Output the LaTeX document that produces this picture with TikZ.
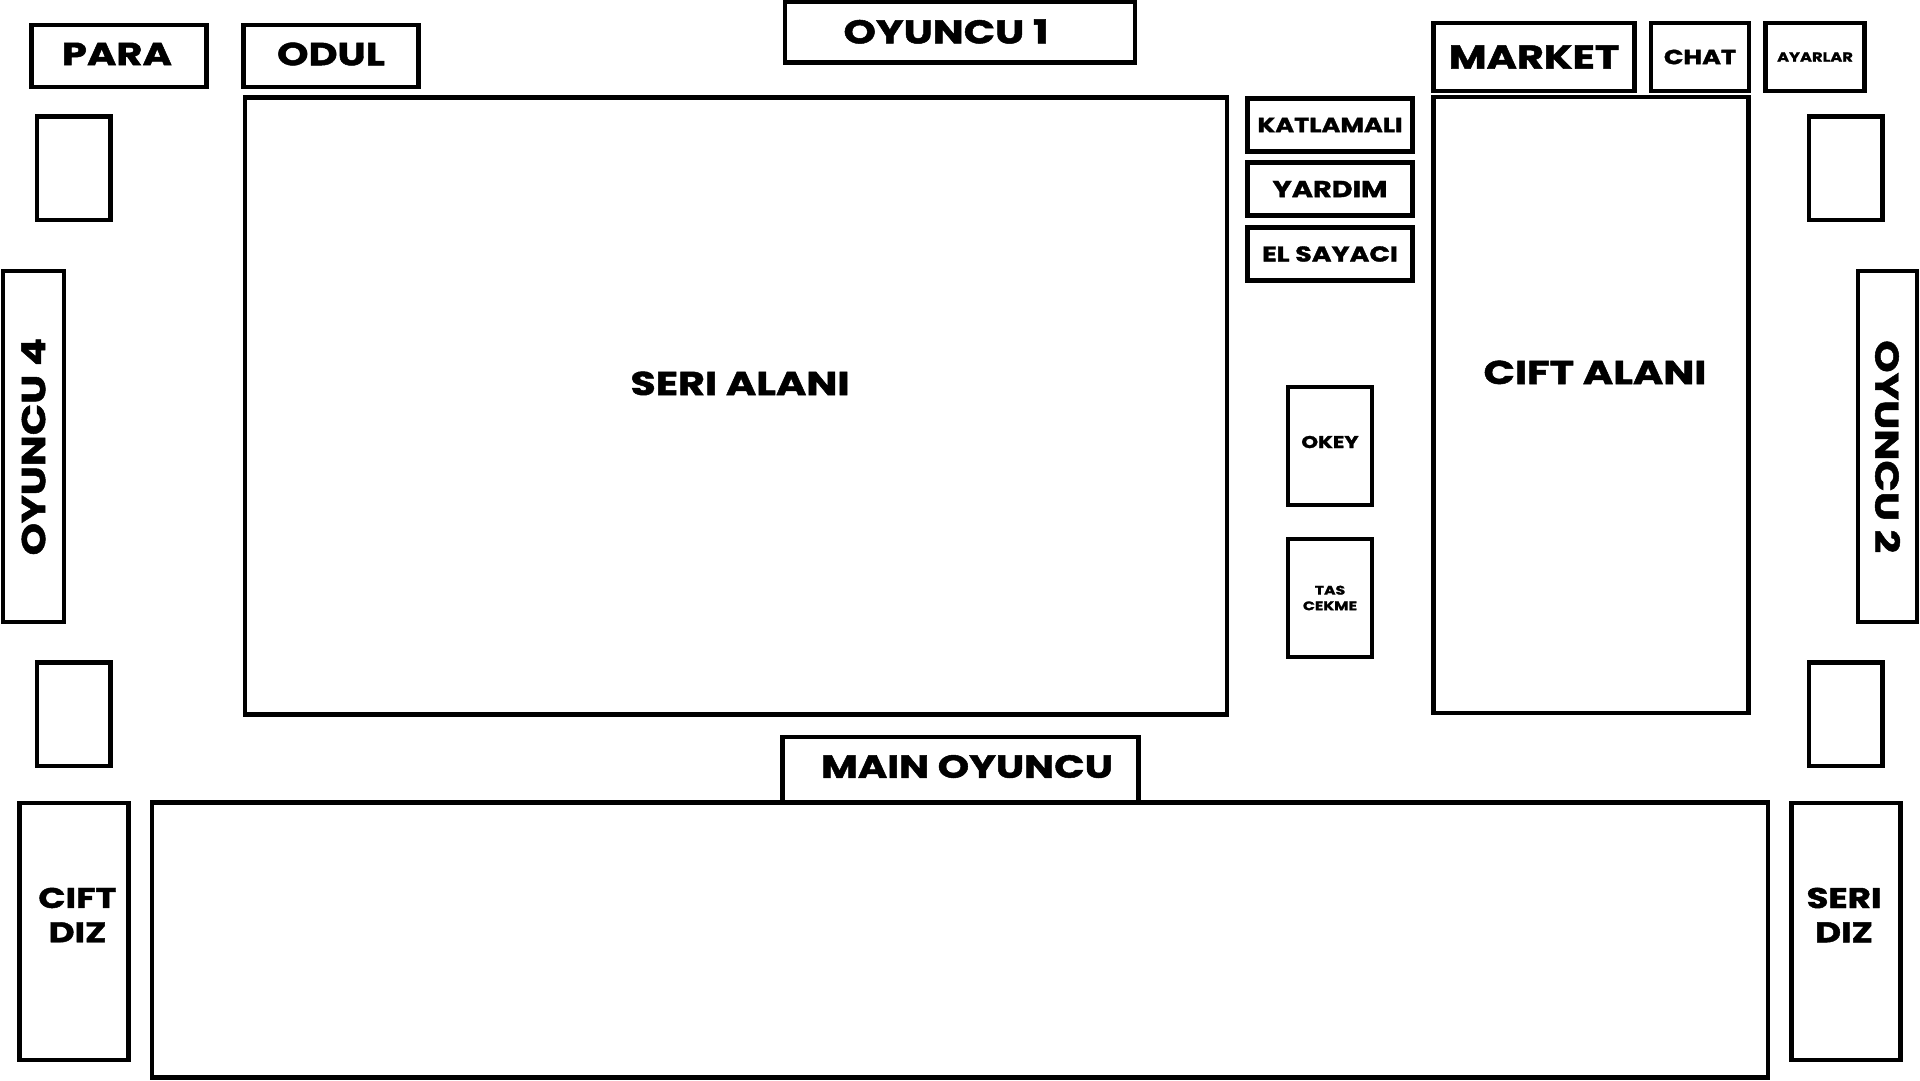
\documentclass[tikz,border=0pt]{standalone}
\usepackage{fontspec}
\setmainfont{Poppins}[BoldFeatures={FakeStretch=1.25,FakeBold=1.5}]

\begin{document}
\begin{tikzpicture}[x=1pt,y=-1pt,
  panel/.style={draw,line width=4.5pt,inner sep=0pt,font=\bfseries},
  sz/.style 2 args={minimum width=#1pt,minimum height=#2pt},
  fs/.style={font=\fontsize{#1}{#1}\selectfont\bfseries}]
 \useasboundingbox (0,0) rectangle (1920,1080);
 % ust sira
 \node[panel,sz={175}{62}] (para) at (119,56) {};
 \node[fs=32] (paratxt) at (117,54) {PARA};
 \node[panel,sz={175}{62}] (odul) at (331,56) {};
 \node[fs=32] (odultxt) at (331,54) {ODUL};
 \node[panel,sz={350}{61}] (oyuncu1) at (960,32) {};
 \node[fs=33] (oyuncu1txt) at (946,31.5) {OYUNCU 1};
 \node[panel,sz={201}{68},fs=33] (market) at (1534,57) {MARKET};
 \node[panel,sz={98}{68},fs=20.5] (chat) at (1700,57) {CHAT};
 \node[panel,sz={99}{68},fs=13] (ayarlar) at (1815,57) {AYARLAR};
 % oyun alanlari
 \node[panel,sz={982}{617}] (seri) at (736,406) {};
 \node[fs=33,anchor=base] (seritxt) at (740,395) {SERI ALANI};
 \node[panel,sz={315}{616}] (cift) at (1591,405) {};
 \node[fs=33,anchor=base] (cifttxt) at (1595,384) {CIFT ALANI};
 % butonlar
 \node[panel,sz={165}{53},fs=20.5] (katla) at (1330,125) {KATLAMALI};
 \node[panel,sz={165}{53},fs=23] (yardim) at (1330,189) {YARDIM};
 \node[panel,sz={165}{53},fs=21.5] (elsay) at (1330,254) {EL SAYACI};
 \node[panel,sz={84}{118}] (okey) at (1330,446) {};
 \node[fs=17] (okeytxt) at (1330,442) {OKEY};
 \node[panel,sz={84}{118},align=center,
   font=\fontsize{12.5}{15.6}\selectfont\bfseries] (tas) at (1330,598) {TAS\\CEKME};
 % kenar kutular
 \foreach \px/\py/\nm in {73.5/168.4/kl1,73.5/714/kl2,1845.7/168.4/kr1,1845.7/714/kr2}
  \node[panel,sz={73.5}{103.5}] (\nm) at (\px,\py) {};
 \node[panel,sz={351}{61},fs=33,rotate=90] (oyuncu4) at (33.4,446.7) {OYUNCU 4};
 \node[panel,sz={351}{59},fs=33,rotate=-90] (oyuncu2) at (1887.5,446.7) {OYUNCU 2};
 % alt sira
 \node[panel,sz={1616}{275}] (alan) at (960,940) {};
 \node[panel,sz={356}{65}] (mainoy) at (960.4,769.7) {};
 \node[fs=32] (mainoytxt) at (967,766.5) {MAIN OYUNCU};
 \node[panel,sz={109}{257}] (ciftdiz) at (74,931.4) {};
 \node[align=center,font=\fontsize{28.5}{34.3}\selectfont\bfseries] (ciftdiztxt) at (77.5,915) {CIFT\\DIZ};
 \node[panel,sz={109}{257}] (seridiz) at (1846,931.4) {};
 \node[align=center,font=\fontsize{28.5}{34.3}\selectfont\bfseries] (seridiztxt) at (1844,915) {SERI\\DIZ};
\end{tikzpicture}
\end{document}
